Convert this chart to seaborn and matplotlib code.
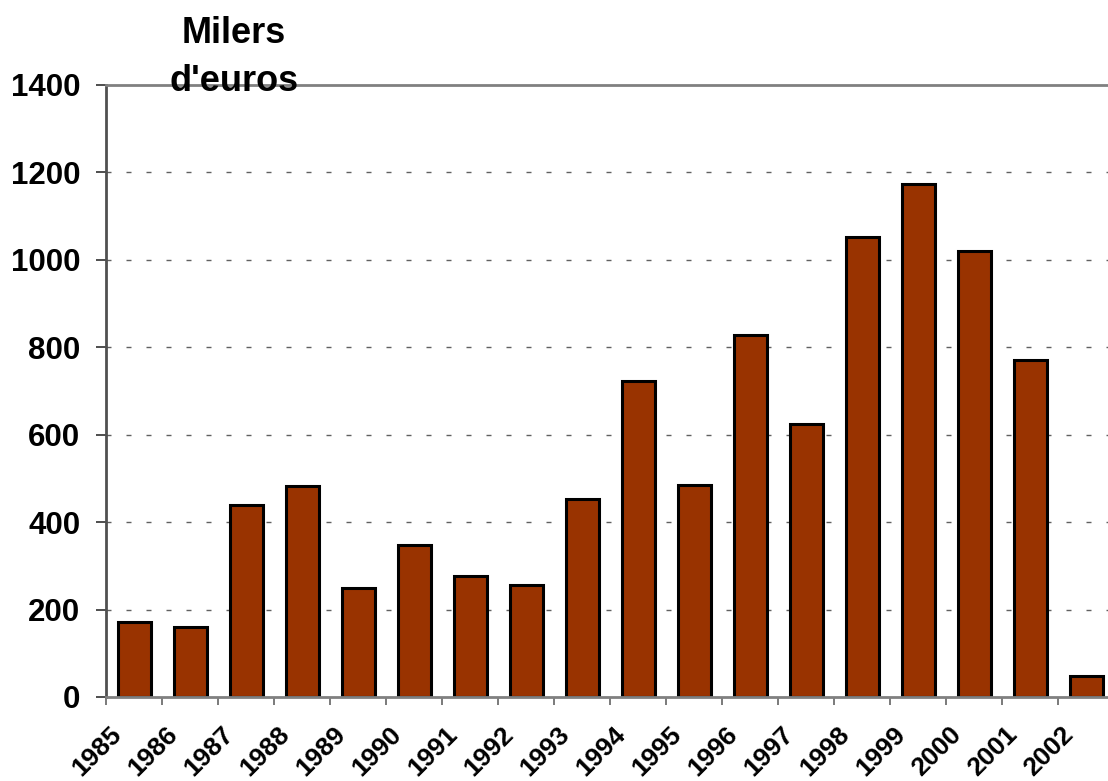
import matplotlib
matplotlib.use('Agg')
import matplotlib.pyplot as plt
import matplotlib.transforms as mtransforms
import seaborn as sns
import pandas as pd

# Dades (milers d'euros per any)
anys = ['1985', '1986', '1987', '1988', '1989', '1990', '1991', '1992', '1993',
        '1994', '1995', '1996', '1997', '1998', '1999', '2000', '2001', '2002']
valors = [171, 160, 439, 483, 249, 348, 277, 256, 453,
          723, 485, 828, 625, 1053, 1174, 1021, 771, 48]
yticks = [0, 200, 400, 600, 800, 1000, 1200, 1400]

df = pd.DataFrame({'any': anys, 'valor': valors})

sns.set_theme(style="white", rc={"text.color": "black",
                                 "xtick.color": "black",
                                 "ytick.color": "black"})
plt.rcParams['font.family'] = ['Liberation Sans', 'DejaVu Sans']

fig = plt.figure(figsize=(11.08, 7.81), dpi=100)
ax = fig.add_axes([0.0957, 0.1076, 0.91, 0.7836])

sns.barplot(data=df, x='any', y='valor', color='#993300', saturation=1,
            edgecolor='black', linewidth=2.2, width=0.59, ax=ax)

ax.set_ylim(0, 1400)
ax.set_xlim(-0.5, len(anys) - 0.5)
ax.set_yticks(yticks)
ax.set_yticklabels([str(v) for v in yticks], fontsize=22.5, fontweight='bold')

# etiquetes de l'eix x: girades 45 graus i desplaçades a l'esquerra
ax.set_xticks(range(len(anys)))
ax.set_xticklabels([])
offset = mtransforms.ScaledTranslation(-0.25, -0.255, fig.dpi_scale_trans)
trans = ax.get_xaxis_transform() + offset
for i, a in enumerate(anys):
    ax.text(i, 0, a, transform=trans, fontsize=19, fontweight='bold',
            rotation=45, ha='right', va='top', rotation_mode='anchor',
            color='black', clip_on=False)

ax.set_xticks([i - 0.5 for i in range(len(anys) + 1)], minor=True)
ax.tick_params(axis='x', which='major', length=0, pad=0)
ax.tick_params(axis='x', which='minor', length=6, width=1.3, color='#707070',
               direction='out', bottom=True)
ax.tick_params(axis='y', length=7, width=1.3, direction='out',
               left=True, pad=11.5, labelcolor='black', color='#404040')

for y in yticks[1:-1]:
    ax.axhline(y, color='#606060', linewidth=1, dashes=(3.6, 10.8), zorder=0)

ax.set_xlabel('')
ax.set_ylabel('')
for s in ['left', 'bottom', 'top']:
    ax.spines[s].set_visible(True)
    ax.spines[s].set_color('#808080')
    ax.spines[s].set_linewidth(2)
ax.spines['left'].set_color('#505050')
ax.spines['right'].set_visible(False)

fig.text(0.211, 0.979, "Milers\nd'euros", ha='center', va='top',
         fontsize=26, fontweight='bold', linespacing=1.46, color='black')

plt.savefig('out.png', dpi=100)
plt.close()
